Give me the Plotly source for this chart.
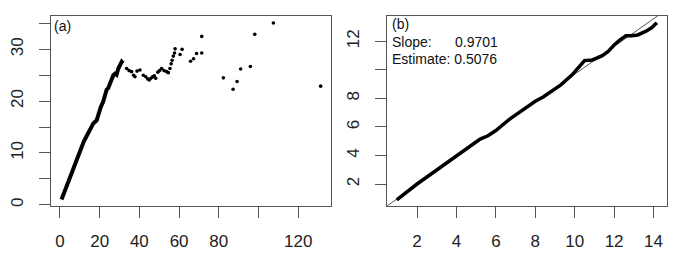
import plotly.graph_objects as go

# ---- Panel (a) data ----
a_line_x = [0.8, 2, 4, 6, 8, 10, 12, 13.8, 15, 16.8, 18.5, 19.3, 20.5, 21.8, 22.7, 23.5,
            24.3, 25.2, 26.0, 26.9, 27.7, 28.5, 29.4, 30.2, 31.1, 31.8]
a_line_y = [1.0, 2.2, 4.3, 6.4, 8.5, 10.6, 12.2, 13.5, 14.5, 15.7, 16.3, 17.6, 18.8, 19.9, 21.3, 22.2,
            22.5, 23.4, 23.7, 25.0, 25.3, 25.1, 26.3, 27.0, 27.6, 27.3]
a_pts_x = [33.6, 34.8, 36.1, 37.1, 37.8, 38.8, 40.3, 42.0, 43.2, 44.2, 45.0, 45.8, 46.7, 47.5,
           48.2, 49.3, 50.2, 51.2, 52.4, 53.7, 54.6, 55.4, 56.0, 56.5, 57.1, 57.7, 58.0,
           60.5, 61.5, 65.8, 67.3, 68.8, 71.4, 71.4, 82.3, 87.2, 89.2, 91.0, 95.9, 98.1,
           107.5, 131.3]
a_pts_y = [26.3, 25.9, 25.7, 25.0, 24.7, 25.8, 26.0, 25.0, 24.7, 24.3, 24.1, 24.4, 24.7, 24.9,
           24.4, 25.6, 25.9, 26.3, 25.9, 25.7, 25.5, 26.3, 27.2, 27.9, 28.7, 29.3, 30.1,
           29.0, 30.0, 27.7, 28.2, 29.2, 29.3, 32.5, 24.5, 22.3, 23.8, 26.2, 26.7, 32.9,
           35.1, 22.9]
a_xticks = [0, 20, 40, 60, 80, 100, 120]
a_xtext = ["0", "20", "40", "60", "80", "", "120"]
a_yticks = [0, 5, 10, 15, 20, 25, 30, 35]
a_ytext = ["0", "", "10", "", "20", "", "30", ""]

# ---- Panel (b) data ----
b_x = [0.97, 1.5, 2.0, 3.0, 4.0, 4.6, 5.2, 5.6, 6.0, 6.7, 7.5, 8.0, 8.4, 8.9, 9.3, 9.9,
       10.2, 10.5, 10.9, 11.4, 11.7, 12.0, 12.3, 12.6, 12.9, 13.2, 13.6, 13.9, 14.17]
b_y = [0.88, 1.45, 2.0, 2.98, 3.98, 4.55, 5.15, 5.38, 5.75, 6.55, 7.3, 7.8, 8.1, 8.6, 8.95, 9.7,
       10.2, 10.65, 10.7, 11.0, 11.3, 11.75, 12.1, 12.4, 12.4, 12.45, 12.7, 12.95, 13.3]
b_slope = 0.9701
b_estimate = 0.5076
b_ref_x = [0, 15]
b_xticks = [2, 4, 6, 8, 10, 12, 14]
b_xtext = ["2", "4", "6", "8", "10", "12", "14"]
b_yticks = [2, 4, 6, 8, 10, 12]
b_ytext = ["2", "4", "6", "8", "", "12"]

W, H = 681, 260
FONT = "Liberation Sans, Arial, Helvetica, sans-serif"
AXC = "#555555"

fig = go.Figure()
fig.add_trace(go.Scatter(x=a_line_x, y=a_line_y, mode="lines",
                         line=dict(color="black", width=4), xaxis="x", yaxis="y",
                         showlegend=False, hoverinfo="skip"))
fig.add_trace(go.Scatter(x=a_pts_x, y=a_pts_y, mode="markers",
                         marker=dict(color="black", size=3.6), xaxis="x", yaxis="y",
                         showlegend=False))
fig.add_trace(go.Scatter(x=b_ref_x, y=[b_slope * v for v in b_ref_x], mode="lines",
                         line=dict(color="#555555", width=1), xaxis="x2", yaxis="y2",
                         showlegend=False, hoverinfo="skip"))
fig.add_trace(go.Scatter(x=b_x, y=b_y, mode="lines",
                         line=dict(color="black", width=3.5), xaxis="x2", yaxis="y2",
                         showlegend=False))

def ax(domain, rng, tv, tt, anchor, angle=0):
    return dict(domain=domain, range=rng, tickmode="array", tickvals=tv, ticktext=tt,
                anchor=anchor, showgrid=False, zeroline=False, showline=True, mirror=True,
                linecolor=AXC, linewidth=1, ticks="outside", ticklen=11, tickcolor=AXC,
                tickwidth=1, tickangle=angle, ticklabelstandoff=9,
                tickfont=dict(family=FONT, size=17, color="#222222"))

ydom = [(H - 205.7) / H, (H - 15.7) / H]
fig.update_layout(
    width=W, height=H, margin=dict(l=0, r=0, t=0, b=0),
    paper_bgcolor="white", plot_bgcolor="white",
    xaxis=ax([51 / W, 331 / W], [-4.5, 136.5], a_xticks, a_xtext, "y"),
    yaxis=ax(ydom, [-0.19, 36.5], a_yticks, a_ytext, "x", -90),
    xaxis2=ax([386.7 / W, 666.7 / W], [0.46, 14.67], b_xticks, b_xtext, "y2"),
    yaxis2=ax(ydom, [0.48, 13.8], b_yticks, b_ytext, "x2", -90),
)

def note(x, y, text):
    fig.add_annotation(xref="paper", yref="paper", x=x / W, y=(H - y) / H, text=text,
                       showarrow=False, xanchor="left", yanchor="middle",
                       font=dict(family=FONT, size=14, color="#111111"), borderpad=0)

note(53, 25.7, "(a)")
note(390.5, 24, "(b)")
note(390.5, 41.7, "Slope:")
note(454, 41.7, f"{b_slope:.4f}")
note(390.5, 59, f"Estimate: {b_estimate:.4f}")

fig.write_html("out.html", config={"displayModeBar": False},
               post_script="document.body.style.margin='0';")
